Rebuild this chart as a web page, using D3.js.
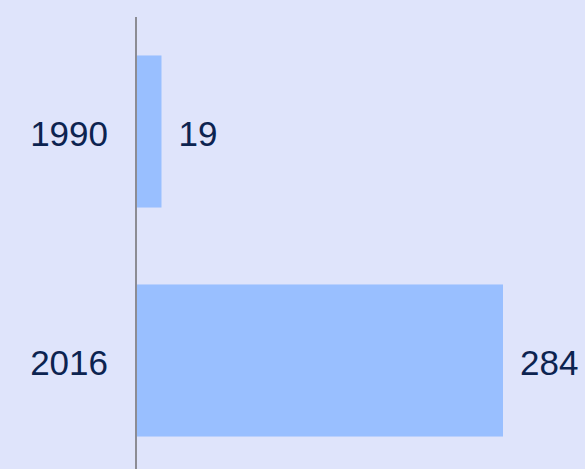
<!DOCTYPE html>
<html>
<head>
<meta charset="utf-8">
<script src="https://cdn.jsdelivr.net/npm/d3@7"></script>
<style>
  body { margin: 0; background: #dfe4fb; }
  #main { width: 585px; height: 469px; }
</style>
</head>
<body>
<div id="main"></div>
<script>
const years = ['1990', '2016'];
const values = [19, 284];

const width = 585;
const height = 469;

const svg = d3.select('#main')
  .append('svg')
  .attr('width', width)
  .attr('height', height);

svg.append('rect')
  .attr('width', width)
  .attr('height', height)
  .style('fill', '#dfe4fb');

const x = d3.scaleLinear()
  .domain([0, 284])
  .range([137, 503]);

const y = d3.scaleBand()
  .domain(years)
  .range([17, 475])
  .paddingInner(0.336)
  .paddingOuter(0.168);

const data = years.map((d, i) => ({ year: d, value: values[i] }));

svg.selectAll('.bar')
  .data(data)
  .enter()
  .append('rect')
  .classed('bar', true)
  .attr('x', x(0))
  .attr('y', (d) => y(d.year))
  .attr('width', (d) => x(d.value) - x(0))
  .attr('height', y.bandwidth())
  .style('fill', '#99bfff');

// axis line
svg.append('line')
  .attr('x1', 136)
  .attr('x2', 136)
  .attr('y1', 17)
  .attr('y2', height)
  .style('stroke', '#8c8c94')
  .style('stroke-width', 2);

svg.selectAll('.yearLabel')
  .data(data)
  .enter()
  .append('text')
  .classed('yearLabel', true)
  .attr('x', 108)
  .attr('y', (d) => y(d.year) + y.bandwidth() / 2)
  .attr('dy', '0.4em')
  .attr('text-anchor', 'end')
  .style('font-family', '"Liberation Sans", Arial, sans-serif')
  .style('font-size', '35px')
  .style('fill', '#0c2350')
  .text((d) => d.year);

svg.selectAll('.valueLabel')
  .data(data)
  .enter()
  .append('text')
  .classed('valueLabel', true)
  .attr('x', (d) => x(d.value) + 17)
  .attr('y', (d) => y(d.year) + y.bandwidth() / 2)
  .attr('dy', '0.4em')
  .style('font-family', '"Liberation Sans", Arial, sans-serif')
  .style('font-size', '35px')
  .style('fill', '#0c2350')
  .text((d) => d.value);
</script>
</body>
</html>
